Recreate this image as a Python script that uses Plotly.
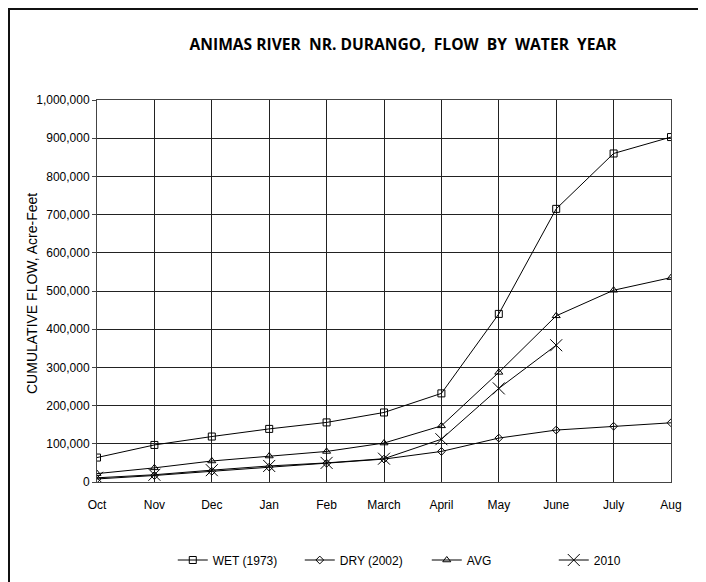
import plotly.graph_objects as go

months = ["Oct", "Nov", "Dec", "Jan", "Feb", "March", "April", "May", "June", "July", "Aug"]
wet_1973 = [64000, 97000, 119000, 139000, 156000, 182000, 232000, 440000, 715000, 860000, 903000]
dry_2002 = [8000, 17000, 28000, 39000, 49000, 60000, 80000, 115000, 136000, 146000, 155000]
avg = [22000, 37000, 55000, 68000, 80000, 102000, 147000, 287000, 435000, 502000, 535000]
y2010 = [11000, 19000, 31000, 42000, 50000, 61000, 112000, 245000, 358000]
y_ticks = list(range(0, 1000001, 100000))

fig = go.Figure()
specs = [
    ("WET (1973)", wet_1973, "square-open", 7),
    ("DRY (2002)", dry_2002, "diamond-open", 6),
    ("AVG", avg, "triangle-up-open", 7),
    ("2010", y2010, "x-thin-open", 12),
]
for name, vals, sym, sz in specs:
    fig.add_trace(go.Scatter(
        x=months[:len(vals)], y=vals, name=name, mode="lines+markers",
        line=dict(color="black", width=1),
        marker=dict(symbol=sym, size=sz, color="black", line=dict(color="black", width=1)),
    ))

# page has an 8px body margin; figure is sized so it fills the window
PW, PH = 574, 382  # plot area size in px
fig.update_layout(
    width=698, height=574,
    paper_bgcolor="white", plot_bgcolor="white",
    margin=dict(l=89, r=35, t=92, b=100, autoexpand=False),
    font=dict(family="Liberation Sans, Arial, sans-serif", size=12, color="black"),
    title=dict(text="<b>ANIMAS RIVER  NR. DURANGO,  FLOW  BY  WATER  YEAR</b>",
               x=0.566, xanchor="center", y=0.9355, yanchor="middle",
               font=dict(family="Open Sans, sans-serif", size=15.6, color="black")),
    showlegend=True,
    legend=dict(orientation="h", x=0.132, xanchor="left", y=(482 - 560) / PH, yanchor="middle",
                bgcolor="rgba(0,0,0,0)",
                font=dict(size=12), itemwidth=30, entrywidth=82, entrywidthmode="pixels"),
    xaxis=dict(type="category", categoryorder="array", categoryarray=months,
               range=[0, 10], showgrid=True, gridcolor="#222", gridwidth=1,
               showline=True, linecolor="#444", mirror=True, ticks="",
               zeroline=False, tickfont=dict(size=12),
               ticklabelstandoff=12, automargin=False),
    yaxis=dict(range=[0, 1000000], tickvals=y_ticks, tickformat=",d",
               showgrid=True, gridcolor="#222", gridwidth=1,
               showline=True, linecolor="#444", mirror=True, ticks="outside",
               ticklen=4, tickcolor="#444", zeroline=False,
               tickfont=dict(size=12), automargin=False),
    annotations=[dict(text="CUMULATIVE FLOW, Acre-Feet", xref="paper", yref="paper",
                      x=(32 - 97) / PW, y=(482 - 294) / PH, textangle=-90,
                      showarrow=False, xanchor="center", yanchor="middle",
                      font=dict(size=14))],
    shapes=[dict(type="rect", xref="paper", yref="paper",
                 x0=(9 - 97) / PW, x1=(702 - 97) / PW,
                 y0=(482 - 600) / PH, y1=(482 - 9) / PH,
                 line=dict(color="#111", width=2))],
)

fig.write_html("out.html")
